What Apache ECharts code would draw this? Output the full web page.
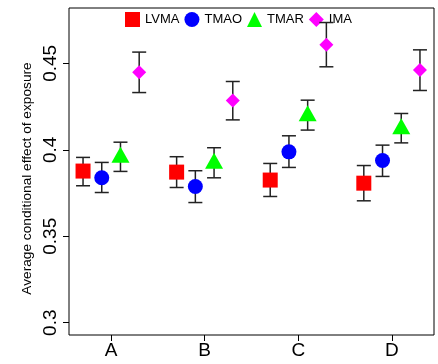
<!DOCTYPE html>
<html>
<head>
<meta charset="utf-8">
<script src="https://cdn.jsdelivr.net/npm/echarts@6/dist/echarts.min.js"></script>
<style>
  html, body { margin: 0; padding: 0; background: #fff; }
  #chart { width: 438px; height: 364px; }
</style>
</head>
<body>
<div id="chart"></div>
<script>
// groups on the x axis
const groups = ['A', 'B', 'C', 'D'];
const seriesNames = ['LVMA', 'TMAO', 'TMAR', 'IMA'];

// point estimates per series (A, B, C, D)
const lvma = [0.3877, 0.3871, 0.3825, 0.3807];
const tmao = [0.3838, 0.3788, 0.3988, 0.3938];
const tmar = [0.3960, 0.3925, 0.4200, 0.4125];
const ima = [0.4448, 0.4285, 0.4608, 0.4461];

// error bar bounds
const lvmaLow = [0.3792, 0.3782, 0.3730, 0.3705];
const lvmaHigh = [0.3956, 0.3960, 0.3921, 0.3909];
const tmaoLow = [0.3753, 0.3695, 0.3898, 0.3846];
const tmaoHigh = [0.3927, 0.3879, 0.4081, 0.4027];
const tmarLow = [0.3875, 0.3838, 0.4114, 0.4040];
const tmarHigh = [0.4044, 0.4012, 0.4287, 0.4210];
const imaLow = [0.4331, 0.4173, 0.4480, 0.4343];
const imaHigh = [0.4565, 0.4395, 0.4736, 0.4578];

const yTicks = [0.3, 0.35, 0.4, 0.45];

const offsets = [-0.3, -0.1, 0.1, 0.3];
const colors = ['#ff0000', '#0000ff', '#00ff00', '#ff00ff'];
const symbols = ['rect', 'circle', 'triangle', 'diamond'];
const sizes = [15, 15, [18, 16], 14];
const symOffsets = [[0, 0], [0, 0], [0, -2], [0, 0]];
const values = [lvma, tmao, tmar, ima];
const lows = [lvmaLow, tmaoLow, tmarLow, imaLow];
const highs = [lvmaHigh, tmaoHigh, tmarHigh, imaHigh];

const font = 'Liberation Sans, Arial, sans-serif';

const chart = echarts.init(document.getElementById('chart'));

const series = [];
seriesNames.forEach((name, s) => {
  // error bars first so markers sit on top
  series.push({
    name: name + '_err',
    type: 'custom',
    z: 2,
    data: groups.map((g, i) => [i + 1 + offsets[s], lows[s][i], highs[s][i]]),
    renderItem: function (params, api) {
      const lo = api.coord([api.value(0), api.value(1)]);
      const hi = api.coord([api.value(0), api.value(2)]);
      const hw = 7;
      const style = { stroke: '#222', lineWidth: 1.5 };
      return {
        type: 'group',
        children: [
          { type: 'line', shape: { x1: lo[0], y1: lo[1], x2: hi[0], y2: hi[1] }, style: style },
          { type: 'line', shape: { x1: lo[0] - hw, y1: lo[1], x2: lo[0] + hw, y2: lo[1] }, style: style },
          { type: 'line', shape: { x1: hi[0] - hw, y1: hi[1], x2: hi[0] + hw, y2: hi[1] }, style: style }
        ]
      };
    }
  });
  series.push({
    name: name,
    type: 'scatter',
    z: 3,
    symbol: symbols[s],
    symbolSize: sizes[s],
    symbolOffset: symOffsets[s],
    itemStyle: { color: colors[s], opacity: 1 },
    data: groups.map((g, i) => [i + 1 + offsets[s], values[s][i]])
  });
});

const option = {
  animation: false,
  backgroundColor: '#fff',
  grid: {
    left: 69, right: 4, top: 8, bottom: 29,
    show: true, borderColor: '#000', borderWidth: 1, backgroundColor: 'transparent'
  },
  legend: {
    data: seriesNames,
    left: 120,
    top: 7,
    itemWidth: 15,
    itemHeight: 15,
    itemGap: 5,
    textStyle: { fontFamily: font, fontSize: 13, color: '#000' },
    z: 1
  },
  graphic: [{
    type: 'text',
    x: 27,
    y: 178.5,
    rotation: Math.PI / 2,
    style: {
      text: 'Average conditional effect of exposure',
      font: '13.7px ' + font,
      fill: '#000',
      align: 'center',
      verticalAlign: 'middle'
    }
  }],
  xAxis: {
    type: 'value',
    min: 0.55,
    max: 4.45,
    axisLine: { show: false },
    splitLine: { show: false },
    axisTick: { show: true, length: 6, customValues: [1, 2, 3, 4], lineStyle: { color: '#000' } },
    axisLabel: {
      customValues: [1, 2, 3, 4],
      formatter: v => groups[Math.round(v) - 1],
      fontFamily: font, fontSize: 19, color: '#000', margin: 6
    }
  },
  yAxis: {
    type: 'value',
    min: 0.2929,
    max: 0.482,
    axisLine: { show: false },
    splitLine: { show: false },
    axisTick: { show: true, length: 6, customValues: yTicks, lineStyle: { color: '#000' } },
    axisLabel: {
      customValues: yTicks,
      rotate: 90,
      fontFamily: font, fontSize: 19, color: '#000', margin: 9
    }
  },
  series: series
};

chart.setOption(option);
</script>
</body>
</html>
